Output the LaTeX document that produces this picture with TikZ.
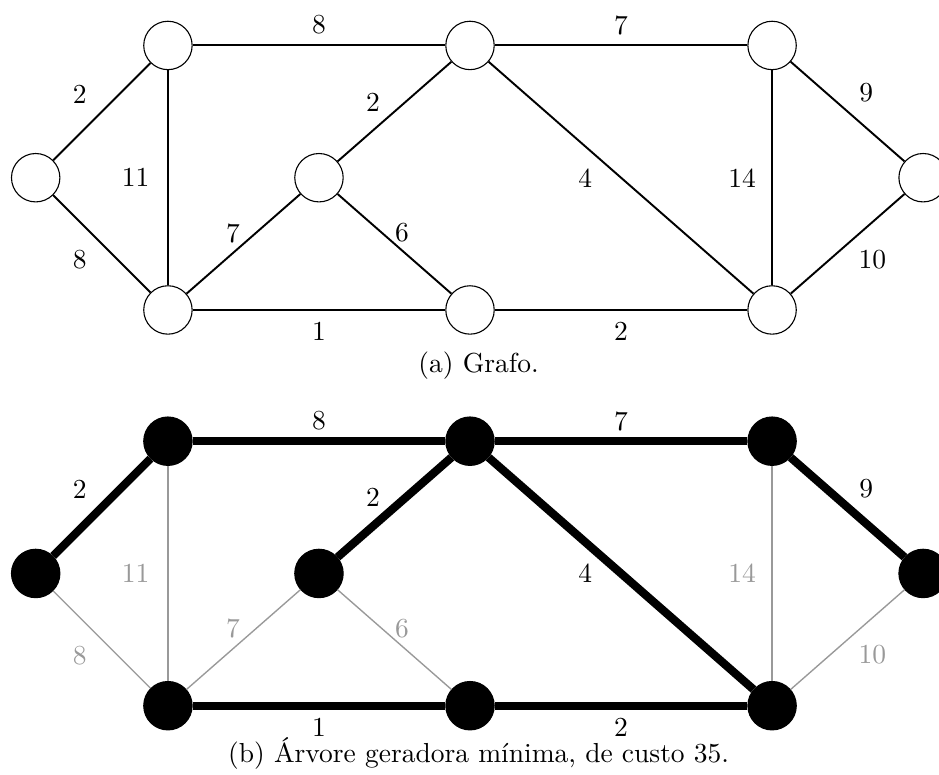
\documentclass[tikz,border=0pt]{standalone}
\usepackage{tikz}
\usetikzlibrary{positioning}

\begin{document}
\begin{tikzpicture}[
            vertex/.style={draw, circle, thin, fill=white, minimum size=17.6pt, inner sep=0pt},
            chosen/.style={vertex, fill=black},
            edge/.style={line width=0.7pt},
            treeedge/.style={line width=3pt},
            unused/.style={line width=0.5pt, black!40},
            weight/.style={midway, inner sep=0pt}
        ]
            \useasboundingbox (-0.456,2.271) rectangle (11.543,-7.620);

            % (a) grafo
            \node (a1) [vertex] at (0,0) {};
            \node (a2) [vertex] at (1.69,1.69) {};
            \node (a3) [vertex] at (1.69,-1.69) {};
            \node (a4) [vertex] at (3.62,0) {};
            \node (a5) [vertex] at (5.55,1.69) {};
            \node (a6) [vertex] at (5.55,-1.69) {};
            \node (a7) [vertex] at (9.41,1.69) {};
            \node (a8) [vertex] at (9.41,-1.69) {};
            \node (a9) [vertex] at (11.34,0) {};

            \draw [edge] (a1) -- node [weight, shift={(-8pt,6.4pt)}] {2} (a2);
            \draw [edge] (a1) -- node [weight, shift={(-8pt,-5.9pt)}] {8} (a3);
            \draw [edge] (a2) -- node [weight, shift={(-11.75pt,0pt)}] {11} (a3);
            \draw [edge] (a2) -- node [weight, shift={(0pt,7.6pt)}] {8} (a5);
            \draw [edge] (a3) -- node [weight, shift={(0pt,-7.7pt)}] {1} (a6);
            \draw [edge] (a3) -- node [weight, shift={(-3.8pt,3.9pt)}] {7} (a4);
            \draw [edge] (a4) -- node [weight, shift={(2.7pt,3.9pt)}] {6} (a6);
            \draw [edge] (a4) -- node [weight, shift={(-7.8pt,3.45pt)}] {2} (a5);
            \draw [edge] (a5) -- node [weight, shift={(0pt,7.3pt)}] {7} (a7);
            \draw [edge] (a5) -- node [weight, shift={(-13pt,0pt)}] {4} (a8);
            \draw [edge] (a7) -- node [weight, shift={(-10.9pt,0pt)}] {14} (a8);
            \draw [edge] (a7) -- node [weight, shift={(6.8pt,6.8pt)}] {9} (a9);
            \draw [edge] (a8) -- node [weight, shift={(9pt,-5.6pt)}] {10} (a9);
            \draw [edge] (a6) -- node [weight, shift={(0pt,-7.75pt)}] {2} (a8);

            \node (capa) [anchor=base] at (5.66,-2.483) {(a) Grafo.};

            % (b) arvore geradora minima
            \node (b1) [chosen] at (0,-5.057) {};
            \node (b2) [chosen] at (1.69,-3.367) {};
            \node (b3) [chosen] at (1.69,-6.747) {};
            \node (b4) [chosen] at (3.62,-5.057) {};
            \node (b5) [chosen] at (5.55,-3.367) {};
            \node (b6) [chosen] at (5.55,-6.747) {};
            \node (b7) [chosen] at (9.41,-3.367) {};
            \node (b8) [chosen] at (9.41,-6.747) {};
            \node (b9) [chosen] at (11.34,-5.057) {};

            \draw [unused] (b1) -- node [weight, shift={(-8pt,-5.9pt)}] {8} (b3);
            \draw [unused] (b2) -- node [weight, shift={(-11.75pt,0pt)}] {11} (b3);
            \draw [unused] (b3) -- node [weight, shift={(-3.8pt,3.9pt)}] {7} (b4);
            \draw [unused] (b4) -- node [weight, shift={(2.7pt,3.9pt)}] {6} (b6);
            \draw [unused] (b7) -- node [weight, shift={(-10.9pt,0pt)}] {14} (b8);
            \draw [unused] (b8) -- node [weight, shift={(9pt,-5.6pt)}] {10} (b9);

            \draw [treeedge] (b1) -- node [weight, shift={(-8pt,6.4pt)}] {2} (b2);
            \draw [treeedge] (b2) -- node [weight, shift={(0pt,7.6pt)}] {8} (b5);
            \draw [treeedge] (b3) -- node [weight, shift={(0pt,-7.7pt)}] {1} (b6);
            \draw [treeedge] (b4) -- node [weight, shift={(-7.8pt,3.45pt)}] {2} (b5);
            \draw [treeedge] (b5) -- node [weight, shift={(0pt,7.3pt)}] {7} (b7);
            \draw [treeedge] (b5) -- node [weight, shift={(-13pt,0pt)}] {4} (b8);
            \draw [treeedge] (b7) -- node [weight, shift={(6.8pt,6.8pt)}] {9} (b9);
            \draw [treeedge] (b6) -- node [weight, shift={(0pt,-7.75pt)}] {2} (b8);

            \node (capb) [anchor=base] at (5.66,-7.467) {(b) Árvore geradora mínima, de custo 35.};
        \end{tikzpicture}
\end{document}
